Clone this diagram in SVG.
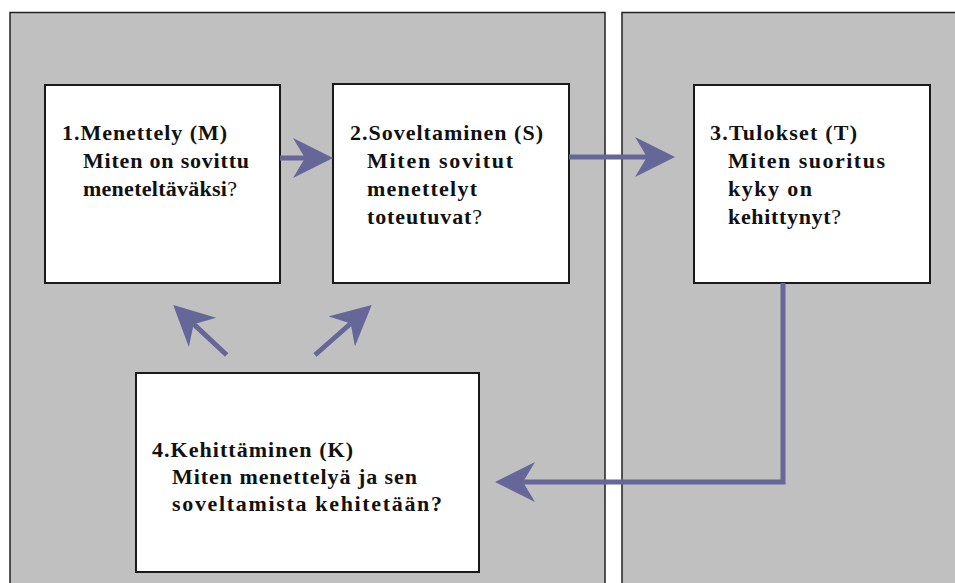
<svg xmlns="http://www.w3.org/2000/svg" width="955" height="583" viewBox="0 0 955 583">
  <style>
    .panel { fill: #c0c0c0; stroke: #222; stroke-width: 1.5; }
    .box { fill: #ffffff; stroke: #1a1a1a; stroke-width: 2; }
    .lbl { font-family: "Liberation Serif", "Times New Roman", serif; font-size: 22px; font-weight: bold; fill: #111; }
    .q { font-weight: normal; }
    .conn { fill: none; stroke: #666699; stroke-width: 5; stroke-linejoin: miter; }
  </style>
  <defs>
    <marker id="head" markerUnits="userSpaceOnUse" markerWidth="44" markerHeight="44" viewBox="0 0 44 44" refX="12" refY="20" orient="auto">
      <path d="M40,20 L0,0 L12,20 L0,40 Z" fill="#666699"/>
    </marker>
  </defs>

  <rect width="955" height="583" fill="#ffffff"/>

  <!-- background panels -->
  <g id="panels">
    <rect class="panel" x="10" y="12.5" width="595" height="580"/>
    <rect class="panel" x="622" y="12.5" width="345" height="580"/>
  </g>

  <g id="node-menettely">
    <rect class="box" x="45" y="85" width="235" height="198"/>
    <text class="lbl" x="62" y="140" textLength="165" lengthAdjust="spacing">1.Menettely (M)</text>
    <text class="lbl" x="83" y="168" textLength="166" lengthAdjust="spacing">Miten on sovittu</text>
    <text class="lbl" x="83" y="196" textLength="154" lengthAdjust="spacing">meneteltäväksi<tspan class="q">?</tspan></text>
  </g>

  <g id="node-soveltaminen">
    <rect class="box" x="333" y="84" width="236" height="199"/>
    <text class="lbl" x="350" y="140" textLength="193" lengthAdjust="spacing">2.Soveltaminen (S)</text>
    <text class="lbl" x="367" y="168" textLength="146" lengthAdjust="spacing">Miten sovitut</text>
    <text class="lbl" x="367" y="196" textLength="110" lengthAdjust="spacing">menettelyt</text>
    <text class="lbl" x="367" y="224" textLength="115" lengthAdjust="spacing">toteutuvat<tspan class="q">?</tspan></text>
  </g>

  <g id="node-tulokset">
    <rect class="box" x="694" y="85" width="236" height="198"/>
    <text class="lbl" x="710" y="140" textLength="147" lengthAdjust="spacing">3.Tulokset (T)</text>
    <text class="lbl" x="728" y="168" textLength="157" lengthAdjust="spacing">Miten suoritus</text>
    <text class="lbl" x="728" y="196" textLength="84" lengthAdjust="spacing">kyky on</text>
    <text class="lbl" x="728" y="224" textLength="113" lengthAdjust="spacing">kehittynyt<tspan class="q">?</tspan></text>
  </g>

  <g id="node-kehittaminen">
    <rect class="box" x="136" y="373" width="343" height="199"/>
    <text class="lbl" x="152" y="457" textLength="201" lengthAdjust="spacing">4.Kehittäminen (K)</text>
    <text class="lbl" x="172" y="484" textLength="245" lengthAdjust="spacing">Miten menettelyä ja sen</text>
    <text class="lbl" x="172" y="511" textLength="270" lengthAdjust="spacing">soveltamista kehitetään?</text>
  </g>

  <!-- connectors -->
  <g id="connectors">
    <path class="conn" d="M280,158 H305" marker-end="url(#head)"/>
    <path class="conn" d="M569,157 H647" marker-end="url(#head)"/>
    <path class="conn" d="M783,283 V482 H523" marker-end="url(#head)"/>
    <path class="conn" d="M226.7,355 L193.7,324.2" marker-end="url(#head)"/>
    <path class="conn" d="M315,355 L350.7,323.5" marker-end="url(#head)"/>
  </g>
</svg>
